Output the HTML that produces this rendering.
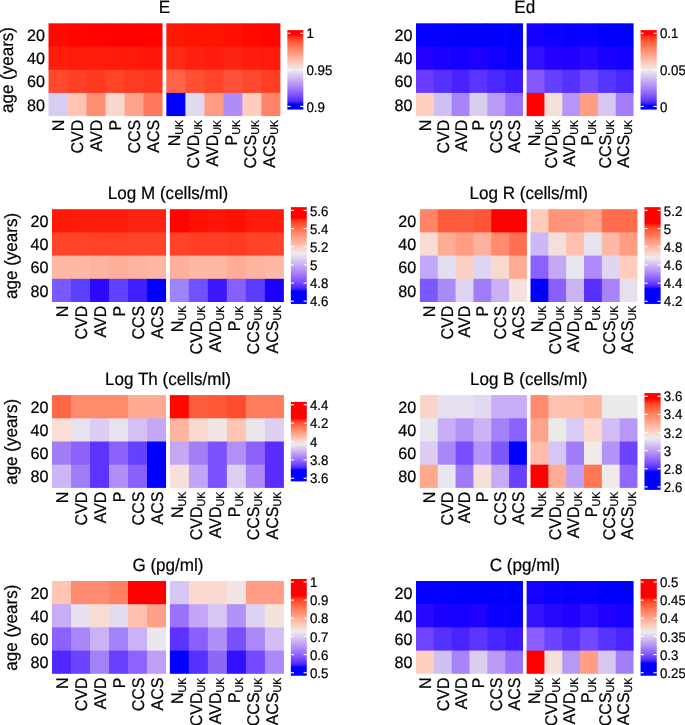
<!DOCTYPE html>
<html><head><meta charset="utf-8"><style>
html,body{margin:0;padding:0;background:#fff;}
svg{display:block;}
text{font-family:"Liberation Sans",sans-serif;fill:#000;text-rendering:geometricPrecision;stroke:#000;stroke-width:0.22px;}
</style></head><body>
<svg width="685" height="725" viewBox="0 0 685 725">
<defs><linearGradient id="gE" x1="0" y1="0" x2="0" y2="1"><stop offset="0.0000" stop-color="#ff0000"/><stop offset="0.0541" stop-color="#ff0000"/><stop offset="0.0912" stop-color="#ff361c"/><stop offset="0.1283" stop-color="#ff4f30"/><stop offset="0.1654" stop-color="#ff6342"/><stop offset="0.2025" stop-color="#ff7554"/><stop offset="0.2396" stop-color="#ff8566"/><stop offset="0.2767" stop-color="#ff9579"/><stop offset="0.3138" stop-color="#ffa48b"/><stop offset="0.3509" stop-color="#ffb39e"/><stop offset="0.3881" stop-color="#ffc1b1"/><stop offset="0.4252" stop-color="#fbd0c5"/><stop offset="0.4623" stop-color="#f4ded8"/><stop offset="0.4994" stop-color="#ececec"/><stop offset="0.5357" stop-color="#e3daef"/><stop offset="0.5721" stop-color="#d9c8f1"/><stop offset="0.6085" stop-color="#ceb7f3"/><stop offset="0.6449" stop-color="#c3a5f5"/><stop offset="0.6812" stop-color="#b794f7"/><stop offset="0.7176" stop-color="#a983f9"/><stop offset="0.7540" stop-color="#9b71fa"/><stop offset="0.7904" stop-color="#8b5ffb"/><stop offset="0.8267" stop-color="#794dfc"/><stop offset="0.8631" stop-color="#633afd"/><stop offset="0.8995" stop-color="#4624fe"/><stop offset="0.9358" stop-color="#0000ff"/><stop offset="1.0000" stop-color="#0000ff"/></linearGradient><linearGradient id="gEd" x1="0" y1="0" x2="0" y2="1"><stop offset="0.0000" stop-color="#ff0000"/><stop offset="0.0465" stop-color="#ff0000"/><stop offset="0.0847" stop-color="#ff361c"/><stop offset="0.1229" stop-color="#ff4f30"/><stop offset="0.1610" stop-color="#ff6342"/><stop offset="0.1992" stop-color="#ff7554"/><stop offset="0.2373" stop-color="#ff8566"/><stop offset="0.2755" stop-color="#ff9579"/><stop offset="0.3136" stop-color="#ffa48b"/><stop offset="0.3518" stop-color="#ffb39e"/><stop offset="0.3899" stop-color="#ffc1b1"/><stop offset="0.4281" stop-color="#fbd0c5"/><stop offset="0.4662" stop-color="#f4ded8"/><stop offset="0.5044" stop-color="#ececec"/><stop offset="0.5418" stop-color="#e3daef"/><stop offset="0.5792" stop-color="#d9c8f1"/><stop offset="0.6167" stop-color="#ceb7f3"/><stop offset="0.6541" stop-color="#c3a5f5"/><stop offset="0.6915" stop-color="#b794f7"/><stop offset="0.7289" stop-color="#a983f9"/><stop offset="0.7664" stop-color="#9b71fa"/><stop offset="0.8038" stop-color="#8b5ffb"/><stop offset="0.8412" stop-color="#794dfc"/><stop offset="0.8786" stop-color="#633afd"/><stop offset="0.9160" stop-color="#4624fe"/><stop offset="0.9535" stop-color="#0000ff"/><stop offset="1.0000" stop-color="#0000ff"/></linearGradient><linearGradient id="gLogM" x1="0" y1="0" x2="0" y2="1"><stop offset="0.0000" stop-color="#ff0000"/><stop offset="0.1074" stop-color="#ff0000"/><stop offset="0.1387" stop-color="#ff361c"/><stop offset="0.1699" stop-color="#ff4f30"/><stop offset="0.2012" stop-color="#ff6342"/><stop offset="0.2324" stop-color="#ff7554"/><stop offset="0.2637" stop-color="#ff8566"/><stop offset="0.2949" stop-color="#ff9579"/><stop offset="0.3262" stop-color="#ffa48b"/><stop offset="0.3574" stop-color="#ffb39e"/><stop offset="0.3887" stop-color="#ffc1b1"/><stop offset="0.4199" stop-color="#fbd0c5"/><stop offset="0.4512" stop-color="#f4ded8"/><stop offset="0.4824" stop-color="#ececec"/><stop offset="0.5148" stop-color="#e3daef"/><stop offset="0.5472" stop-color="#d9c8f1"/><stop offset="0.5795" stop-color="#ceb7f3"/><stop offset="0.6119" stop-color="#c3a5f5"/><stop offset="0.6443" stop-color="#b794f7"/><stop offset="0.6767" stop-color="#a983f9"/><stop offset="0.7090" stop-color="#9b71fa"/><stop offset="0.7414" stop-color="#8b5ffb"/><stop offset="0.7738" stop-color="#794dfc"/><stop offset="0.8061" stop-color="#633afd"/><stop offset="0.8385" stop-color="#4624fe"/><stop offset="0.8709" stop-color="#0000ff"/><stop offset="1.0000" stop-color="#0000ff"/></linearGradient><linearGradient id="gLogR" x1="0" y1="0" x2="0" y2="1"><stop offset="0.0000" stop-color="#ff0000"/><stop offset="0.1643" stop-color="#ff0000"/><stop offset="0.1942" stop-color="#ff361c"/><stop offset="0.2242" stop-color="#ff4f30"/><stop offset="0.2541" stop-color="#ff6342"/><stop offset="0.2841" stop-color="#ff7554"/><stop offset="0.3140" stop-color="#ff8566"/><stop offset="0.3440" stop-color="#ff9579"/><stop offset="0.3740" stop-color="#ffa48b"/><stop offset="0.4039" stop-color="#ffb39e"/><stop offset="0.4339" stop-color="#ffc1b1"/><stop offset="0.4638" stop-color="#fbd0c5"/><stop offset="0.4938" stop-color="#f4ded8"/><stop offset="0.5238" stop-color="#ececec"/><stop offset="0.5505" stop-color="#e3daef"/><stop offset="0.5773" stop-color="#d9c8f1"/><stop offset="0.6041" stop-color="#ceb7f3"/><stop offset="0.6309" stop-color="#c3a5f5"/><stop offset="0.6576" stop-color="#b794f7"/><stop offset="0.6844" stop-color="#a983f9"/><stop offset="0.7112" stop-color="#9b71fa"/><stop offset="0.7379" stop-color="#8b5ffb"/><stop offset="0.7647" stop-color="#794dfc"/><stop offset="0.7915" stop-color="#633afd"/><stop offset="0.8183" stop-color="#4624fe"/><stop offset="0.8450" stop-color="#0000ff"/><stop offset="1.0000" stop-color="#0000ff"/></linearGradient><linearGradient id="gLogTh" x1="0" y1="0" x2="0" y2="1"><stop offset="0.0000" stop-color="#ff0000"/><stop offset="0.2050" stop-color="#ff0000"/><stop offset="0.2325" stop-color="#ff361c"/><stop offset="0.2600" stop-color="#ff4f30"/><stop offset="0.2874" stop-color="#ff6342"/><stop offset="0.3149" stop-color="#ff7554"/><stop offset="0.3423" stop-color="#ff8566"/><stop offset="0.3698" stop-color="#ff9579"/><stop offset="0.3973" stop-color="#ffa48b"/><stop offset="0.4247" stop-color="#ffb39e"/><stop offset="0.4522" stop-color="#ffc1b1"/><stop offset="0.4797" stop-color="#fbd0c5"/><stop offset="0.5071" stop-color="#f4ded8"/><stop offset="0.5346" stop-color="#ececec"/><stop offset="0.5614" stop-color="#e3daef"/><stop offset="0.5883" stop-color="#d9c8f1"/><stop offset="0.6151" stop-color="#ceb7f3"/><stop offset="0.6419" stop-color="#c3a5f5"/><stop offset="0.6688" stop-color="#b794f7"/><stop offset="0.6956" stop-color="#a983f9"/><stop offset="0.7224" stop-color="#9b71fa"/><stop offset="0.7493" stop-color="#8b5ffb"/><stop offset="0.7761" stop-color="#794dfc"/><stop offset="0.8029" stop-color="#633afd"/><stop offset="0.8298" stop-color="#4624fe"/><stop offset="0.8566" stop-color="#0000ff"/><stop offset="1.0000" stop-color="#0000ff"/></linearGradient><linearGradient id="gLogB" x1="0" y1="0" x2="0" y2="1"><stop offset="0.0000" stop-color="#ff0000"/><stop offset="0.0599" stop-color="#ff0000"/><stop offset="0.0936" stop-color="#ff361c"/><stop offset="0.1272" stop-color="#ff4f30"/><stop offset="0.1609" stop-color="#ff6342"/><stop offset="0.1946" stop-color="#ff7554"/><stop offset="0.2282" stop-color="#ff8566"/><stop offset="0.2619" stop-color="#ff9579"/><stop offset="0.2955" stop-color="#ffa48b"/><stop offset="0.3292" stop-color="#ffb39e"/><stop offset="0.3629" stop-color="#ffc1b1"/><stop offset="0.3965" stop-color="#fbd0c5"/><stop offset="0.4302" stop-color="#f4ded8"/><stop offset="0.4638" stop-color="#ececec"/><stop offset="0.4931" stop-color="#e3daef"/><stop offset="0.5224" stop-color="#d9c8f1"/><stop offset="0.5517" stop-color="#ceb7f3"/><stop offset="0.5809" stop-color="#c3a5f5"/><stop offset="0.6102" stop-color="#b794f7"/><stop offset="0.6395" stop-color="#a983f9"/><stop offset="0.6687" stop-color="#9b71fa"/><stop offset="0.6980" stop-color="#8b5ffb"/><stop offset="0.7273" stop-color="#794dfc"/><stop offset="0.7565" stop-color="#633afd"/><stop offset="0.7858" stop-color="#4624fe"/><stop offset="0.8151" stop-color="#0000ff"/><stop offset="1.0000" stop-color="#0000ff"/></linearGradient><linearGradient id="gG" x1="0" y1="0" x2="0" y2="1"><stop offset="0.0000" stop-color="#ff0000"/><stop offset="0.1725" stop-color="#ff0000"/><stop offset="0.2034" stop-color="#ff361c"/><stop offset="0.2343" stop-color="#ff4f30"/><stop offset="0.2652" stop-color="#ff6342"/><stop offset="0.2961" stop-color="#ff7554"/><stop offset="0.3270" stop-color="#ff8566"/><stop offset="0.3580" stop-color="#ff9579"/><stop offset="0.3889" stop-color="#ffa48b"/><stop offset="0.4198" stop-color="#ffb39e"/><stop offset="0.4507" stop-color="#ffc1b1"/><stop offset="0.4816" stop-color="#fbd0c5"/><stop offset="0.5125" stop-color="#f4ded8"/><stop offset="0.5434" stop-color="#ececec"/><stop offset="0.5742" stop-color="#e3daef"/><stop offset="0.6050" stop-color="#d9c8f1"/><stop offset="0.6358" stop-color="#ceb7f3"/><stop offset="0.6667" stop-color="#c3a5f5"/><stop offset="0.6975" stop-color="#b794f7"/><stop offset="0.7283" stop-color="#a983f9"/><stop offset="0.7591" stop-color="#9b71fa"/><stop offset="0.7899" stop-color="#8b5ffb"/><stop offset="0.8208" stop-color="#794dfc"/><stop offset="0.8516" stop-color="#633afd"/><stop offset="0.8824" stop-color="#4624fe"/><stop offset="0.9132" stop-color="#0000ff"/><stop offset="1.0000" stop-color="#0000ff"/></linearGradient><linearGradient id="gC" x1="0" y1="0" x2="0" y2="1"><stop offset="0.0000" stop-color="#ff0000"/><stop offset="0.1870" stop-color="#ff0000"/><stop offset="0.2173" stop-color="#ff361c"/><stop offset="0.2476" stop-color="#ff4f30"/><stop offset="0.2779" stop-color="#ff6342"/><stop offset="0.3082" stop-color="#ff7554"/><stop offset="0.3385" stop-color="#ff8566"/><stop offset="0.3688" stop-color="#ff9579"/><stop offset="0.3991" stop-color="#ffa48b"/><stop offset="0.4294" stop-color="#ffb39e"/><stop offset="0.4597" stop-color="#ffc1b1"/><stop offset="0.4900" stop-color="#fbd0c5"/><stop offset="0.5203" stop-color="#f4ded8"/><stop offset="0.5506" stop-color="#ececec"/><stop offset="0.5772" stop-color="#e3daef"/><stop offset="0.6038" stop-color="#d9c8f1"/><stop offset="0.6304" stop-color="#ceb7f3"/><stop offset="0.6570" stop-color="#c3a5f5"/><stop offset="0.6836" stop-color="#b794f7"/><stop offset="0.7102" stop-color="#a983f9"/><stop offset="0.7368" stop-color="#9b71fa"/><stop offset="0.7634" stop-color="#8b5ffb"/><stop offset="0.7900" stop-color="#794dfc"/><stop offset="0.8166" stop-color="#633afd"/><stop offset="0.8432" stop-color="#4624fe"/><stop offset="0.8698" stop-color="#0000ff"/><stop offset="1.0000" stop-color="#0000ff"/></linearGradient></defs>
<rect width="685" height="725" fill="#fff"/>
<rect x="48.5" y="23.3" width="19.71" height="23.9" fill="#FF0A00"/>
<rect x="67.51" y="23.3" width="19.71" height="23.9" fill="#FF0400"/>
<rect x="86.52" y="23.3" width="19.71" height="23.9" fill="#FF0200"/>
<rect x="105.53" y="23.3" width="19.71" height="23.9" fill="#FF0000"/>
<rect x="124.53" y="23.3" width="19.71" height="23.9" fill="#FF0000"/>
<rect x="143.54" y="23.3" width="19.01" height="23.9" fill="#FF0200"/>
<rect x="48.5" y="46.5" width="19.71" height="23.9" fill="#FF1E0C"/>
<rect x="67.51" y="46.5" width="19.71" height="23.9" fill="#FF1A0A"/>
<rect x="86.52" y="46.5" width="19.71" height="23.9" fill="#FF1C0C"/>
<rect x="105.53" y="46.5" width="19.71" height="23.9" fill="#FF1A0A"/>
<rect x="124.53" y="46.5" width="19.71" height="23.9" fill="#FF1A0A"/>
<rect x="143.54" y="46.5" width="19.01" height="23.9" fill="#FF160A"/>
<rect x="48.5" y="69.7" width="19.71" height="23.9" fill="#FF4A2E"/>
<rect x="67.51" y="69.7" width="19.71" height="23.9" fill="#FF4028"/>
<rect x="86.52" y="69.7" width="19.71" height="23.9" fill="#FF3A20"/>
<rect x="105.53" y="69.7" width="19.71" height="23.9" fill="#FF4428"/>
<rect x="124.53" y="69.7" width="19.71" height="23.9" fill="#FF3C22"/>
<rect x="143.54" y="69.7" width="19.01" height="23.9" fill="#FF3620"/>
<rect x="48.5" y="92.9" width="19.71" height="23.2" fill="#D8CCF0"/>
<rect x="67.51" y="92.9" width="19.71" height="23.2" fill="#FFC4B4"/>
<rect x="86.52" y="92.9" width="19.71" height="23.2" fill="#FF8E74"/>
<rect x="105.53" y="92.9" width="19.71" height="23.2" fill="#F8D8CE"/>
<rect x="124.53" y="92.9" width="19.71" height="23.2" fill="#FFA48A"/>
<rect x="143.54" y="92.9" width="19.01" height="23.2" fill="#FF7A5C"/>
<rect x="166.35" y="23.3" width="19.71" height="23.9" fill="#FF1800"/>
<rect x="185.36" y="23.3" width="19.71" height="23.9" fill="#FF1200"/>
<rect x="204.37" y="23.3" width="19.71" height="23.9" fill="#FF1400"/>
<rect x="223.38" y="23.3" width="19.71" height="23.9" fill="#FF1000"/>
<rect x="242.38" y="23.3" width="19.71" height="23.9" fill="#FF0800"/>
<rect x="261.39" y="23.3" width="19.01" height="23.9" fill="#FF0400"/>
<rect x="166.35" y="46.5" width="19.71" height="23.9" fill="#FF2A14"/>
<rect x="185.36" y="46.5" width="19.71" height="23.9" fill="#FF2010"/>
<rect x="204.37" y="46.5" width="19.71" height="23.9" fill="#FF1E0E"/>
<rect x="223.38" y="46.5" width="19.71" height="23.9" fill="#FF2412"/>
<rect x="242.38" y="46.5" width="19.71" height="23.9" fill="#FF1E0E"/>
<rect x="261.39" y="46.5" width="19.01" height="23.9" fill="#FF1A0C"/>
<rect x="166.35" y="69.7" width="19.71" height="23.9" fill="#FF6448"/>
<rect x="185.36" y="69.7" width="19.71" height="23.9" fill="#FF5034"/>
<rect x="204.37" y="69.7" width="19.71" height="23.9" fill="#FF4428"/>
<rect x="223.38" y="69.7" width="19.71" height="23.9" fill="#FF5238"/>
<rect x="242.38" y="69.7" width="19.71" height="23.9" fill="#FF4830"/>
<rect x="261.39" y="69.7" width="19.01" height="23.9" fill="#FF3E24"/>
<rect x="166.35" y="92.9" width="19.71" height="23.2" fill="#0000FF"/>
<rect x="185.36" y="92.9" width="19.71" height="23.2" fill="#E0DAF0"/>
<rect x="204.37" y="92.9" width="19.71" height="23.2" fill="#FF9C84"/>
<rect x="223.38" y="92.9" width="19.71" height="23.2" fill="#B08CF8"/>
<rect x="242.38" y="92.9" width="19.71" height="23.2" fill="#FFCCBE"/>
<rect x="261.39" y="92.9" width="19.01" height="23.2" fill="#FF8468"/>
<rect x="287.35" y="30.1" width="15.95" height="79.5" fill="url(#gE)"/>
<rect x="287.35" y="32.72" width="3.19" height="1.1" fill="#fff"/>
<rect x="300.11" y="32.72" width="3.19" height="1.1" fill="#fff"/>
<rect x="287.35" y="69.32" width="3.19" height="1.1" fill="#fff"/>
<rect x="300.11" y="69.32" width="3.19" height="1.1" fill="#fff"/>
<rect x="287.35" y="105.92" width="3.19" height="1.1" fill="#fff"/>
<rect x="300.11" y="105.92" width="3.19" height="1.1" fill="#fff"/>
<rect x="416" y="23.3" width="18.53" height="23.9" fill="#0500FF"/>
<rect x="433.83" y="23.3" width="18.53" height="23.9" fill="#0200FF"/>
<rect x="451.67" y="23.3" width="18.53" height="23.9" fill="#0100FF"/>
<rect x="469.5" y="23.3" width="18.53" height="23.9" fill="#0000FF"/>
<rect x="487.33" y="23.3" width="18.53" height="23.9" fill="#0000FF"/>
<rect x="505.17" y="23.3" width="17.83" height="23.9" fill="#0000FF"/>
<rect x="416" y="46.5" width="18.53" height="23.9" fill="#2500FF"/>
<rect x="433.83" y="46.5" width="18.53" height="23.9" fill="#1A00FF"/>
<rect x="451.67" y="46.5" width="18.53" height="23.9" fill="#1500FF"/>
<rect x="469.5" y="46.5" width="18.53" height="23.9" fill="#1E00FF"/>
<rect x="487.33" y="46.5" width="18.53" height="23.9" fill="#1000FF"/>
<rect x="505.17" y="46.5" width="17.83" height="23.9" fill="#0800FF"/>
<rect x="416" y="69.7" width="18.53" height="23.9" fill="#6A3CFF"/>
<rect x="433.83" y="69.7" width="18.53" height="23.9" fill="#5530FF"/>
<rect x="451.67" y="69.7" width="18.53" height="23.9" fill="#4A22FF"/>
<rect x="469.5" y="69.7" width="18.53" height="23.9" fill="#5A34FF"/>
<rect x="487.33" y="69.7" width="18.53" height="23.9" fill="#4828FF"/>
<rect x="505.17" y="69.7" width="17.83" height="23.9" fill="#3E18FF"/>
<rect x="416" y="92.9" width="18.53" height="23.2" fill="#FFD0C2"/>
<rect x="433.83" y="92.9" width="18.53" height="23.2" fill="#CFC0F4"/>
<rect x="451.67" y="92.9" width="18.53" height="23.2" fill="#A884F8"/>
<rect x="469.5" y="92.9" width="18.53" height="23.2" fill="#DACEF0"/>
<rect x="487.33" y="92.9" width="18.53" height="23.2" fill="#B99AF6"/>
<rect x="505.17" y="92.9" width="17.83" height="23.2" fill="#9870FA"/>
<rect x="526.6" y="23.3" width="18.53" height="23.9" fill="#1400FF"/>
<rect x="544.43" y="23.3" width="18.53" height="23.9" fill="#0C00FF"/>
<rect x="562.27" y="23.3" width="18.53" height="23.9" fill="#0800FF"/>
<rect x="580.1" y="23.3" width="18.53" height="23.9" fill="#0A00FF"/>
<rect x="597.93" y="23.3" width="18.53" height="23.9" fill="#0000FF"/>
<rect x="615.77" y="23.3" width="17.83" height="23.9" fill="#0000FF"/>
<rect x="526.6" y="46.5" width="18.53" height="23.9" fill="#3010FF"/>
<rect x="544.43" y="46.5" width="18.53" height="23.9" fill="#2600FF"/>
<rect x="562.27" y="46.5" width="18.53" height="23.9" fill="#2000FF"/>
<rect x="580.1" y="46.5" width="18.53" height="23.9" fill="#2A08FF"/>
<rect x="597.93" y="46.5" width="18.53" height="23.9" fill="#1A00FF"/>
<rect x="615.77" y="46.5" width="17.83" height="23.9" fill="#1400FF"/>
<rect x="526.6" y="69.7" width="18.53" height="23.9" fill="#8458FF"/>
<rect x="544.43" y="69.7" width="18.53" height="23.9" fill="#6640FF"/>
<rect x="562.27" y="69.7" width="18.53" height="23.9" fill="#5530FF"/>
<rect x="580.1" y="69.7" width="18.53" height="23.9" fill="#6E46FF"/>
<rect x="597.93" y="69.7" width="18.53" height="23.9" fill="#5634FF"/>
<rect x="615.77" y="69.7" width="17.83" height="23.9" fill="#4A26FF"/>
<rect x="526.6" y="92.9" width="18.53" height="23.2" fill="#FF0000"/>
<rect x="544.43" y="92.9" width="18.53" height="23.2" fill="#F4E0D8"/>
<rect x="562.27" y="92.9" width="18.53" height="23.2" fill="#B596F6"/>
<rect x="580.1" y="92.9" width="18.53" height="23.2" fill="#FF9E82"/>
<rect x="597.93" y="92.9" width="18.53" height="23.2" fill="#D6C8F2"/>
<rect x="615.77" y="92.9" width="17.83" height="23.2" fill="#A47EF8"/>
<rect x="640.55" y="30.1" width="16.2" height="79.5" fill="url(#gEd)"/>
<rect x="640.55" y="32.72" width="3.24" height="1.1" fill="#fff"/>
<rect x="653.51" y="32.72" width="3.24" height="1.1" fill="#fff"/>
<rect x="640.55" y="69.32" width="3.24" height="1.1" fill="#fff"/>
<rect x="653.51" y="69.32" width="3.24" height="1.1" fill="#fff"/>
<rect x="640.55" y="105.92" width="3.24" height="1.1" fill="#fff"/>
<rect x="653.51" y="105.92" width="3.24" height="1.1" fill="#fff"/>
<rect x="52" y="209.2" width="19.71" height="23.9" fill="#FF1A08"/>
<rect x="71.01" y="209.2" width="19.71" height="23.9" fill="#FF1C0A"/>
<rect x="90.02" y="209.2" width="19.71" height="23.9" fill="#FF1C0A"/>
<rect x="109.03" y="209.2" width="19.71" height="23.9" fill="#FF1C0A"/>
<rect x="128.03" y="209.2" width="19.71" height="23.9" fill="#FF2412"/>
<rect x="147.04" y="209.2" width="19.01" height="23.9" fill="#FF2412"/>
<rect x="52" y="232.4" width="19.71" height="23.9" fill="#FF4428"/>
<rect x="71.01" y="232.4" width="19.71" height="23.9" fill="#FF4428"/>
<rect x="90.02" y="232.4" width="19.71" height="23.9" fill="#FF4226"/>
<rect x="109.03" y="232.4" width="19.71" height="23.9" fill="#FF4226"/>
<rect x="128.03" y="232.4" width="19.71" height="23.9" fill="#FF4428"/>
<rect x="147.04" y="232.4" width="19.01" height="23.9" fill="#FF4428"/>
<rect x="52" y="255.6" width="19.71" height="23.9" fill="#FFB8A4"/>
<rect x="71.01" y="255.6" width="19.71" height="23.9" fill="#FFB8A4"/>
<rect x="90.02" y="255.6" width="19.71" height="23.9" fill="#FFB4A0"/>
<rect x="109.03" y="255.6" width="19.71" height="23.9" fill="#FFB09A"/>
<rect x="128.03" y="255.6" width="19.71" height="23.9" fill="#FFB4A0"/>
<rect x="147.04" y="255.6" width="19.01" height="23.9" fill="#FFB8A4"/>
<rect x="52" y="278.8" width="19.71" height="23.2" fill="#7A5AFF"/>
<rect x="71.01" y="278.8" width="19.71" height="23.2" fill="#5A40FF"/>
<rect x="90.02" y="278.8" width="19.71" height="23.2" fill="#2C08FF"/>
<rect x="109.03" y="278.8" width="19.71" height="23.2" fill="#6240FF"/>
<rect x="128.03" y="278.8" width="19.71" height="23.2" fill="#4020FF"/>
<rect x="147.04" y="278.8" width="19.01" height="23.2" fill="#0000FF"/>
<rect x="169.85" y="209.2" width="19.71" height="23.9" fill="#FF0400"/>
<rect x="188.86" y="209.2" width="19.71" height="23.9" fill="#FF1000"/>
<rect x="207.87" y="209.2" width="19.71" height="23.9" fill="#FF1406"/>
<rect x="226.88" y="209.2" width="19.71" height="23.9" fill="#FF1000"/>
<rect x="245.88" y="209.2" width="19.71" height="23.9" fill="#FF1C0A"/>
<rect x="264.89" y="209.2" width="19.01" height="23.9" fill="#FF1C0A"/>
<rect x="169.85" y="232.4" width="19.71" height="23.9" fill="#FF4228"/>
<rect x="188.86" y="232.4" width="19.71" height="23.9" fill="#FF3E24"/>
<rect x="207.87" y="232.4" width="19.71" height="23.9" fill="#FF4026"/>
<rect x="226.88" y="232.4" width="19.71" height="23.9" fill="#FF3C22"/>
<rect x="245.88" y="232.4" width="19.71" height="23.9" fill="#FF4228"/>
<rect x="264.89" y="232.4" width="19.01" height="23.9" fill="#FF4429"/>
<rect x="169.85" y="255.6" width="19.71" height="23.9" fill="#FFB09C"/>
<rect x="188.86" y="255.6" width="19.71" height="23.9" fill="#FFB8A4"/>
<rect x="207.87" y="255.6" width="19.71" height="23.9" fill="#FFB8A4"/>
<rect x="226.88" y="255.6" width="19.71" height="23.9" fill="#FFAC96"/>
<rect x="245.88" y="255.6" width="19.71" height="23.9" fill="#FFB4A0"/>
<rect x="264.89" y="255.6" width="19.01" height="23.9" fill="#FFB8A6"/>
<rect x="169.85" y="278.8" width="19.71" height="23.2" fill="#9C84FF"/>
<rect x="188.86" y="278.8" width="19.71" height="23.2" fill="#7050FF"/>
<rect x="207.87" y="278.8" width="19.71" height="23.2" fill="#3C18FF"/>
<rect x="226.88" y="278.8" width="19.71" height="23.2" fill="#8660FF"/>
<rect x="245.88" y="278.8" width="19.71" height="23.2" fill="#5A3CFF"/>
<rect x="264.89" y="278.8" width="19.01" height="23.2" fill="#1A00FF"/>
<rect x="290.85" y="207.15" width="15.95" height="96.8" fill="url(#gLogM)"/>
<rect x="290.85" y="209.85" width="3.19" height="1.1" fill="#fff"/>
<rect x="303.61" y="209.85" width="3.19" height="1.1" fill="#fff"/>
<rect x="290.85" y="228.01" width="3.19" height="1.1" fill="#fff"/>
<rect x="303.61" y="228.01" width="3.19" height="1.1" fill="#fff"/>
<rect x="290.85" y="246.17" width="3.19" height="1.1" fill="#fff"/>
<rect x="303.61" y="246.17" width="3.19" height="1.1" fill="#fff"/>
<rect x="290.85" y="264.33" width="3.19" height="1.1" fill="#fff"/>
<rect x="303.61" y="264.33" width="3.19" height="1.1" fill="#fff"/>
<rect x="290.85" y="282.49" width="3.19" height="1.1" fill="#fff"/>
<rect x="303.61" y="282.49" width="3.19" height="1.1" fill="#fff"/>
<rect x="290.85" y="300.65" width="3.19" height="1.1" fill="#fff"/>
<rect x="303.61" y="300.65" width="3.19" height="1.1" fill="#fff"/>
<rect x="419.9" y="209.2" width="18.53" height="23.9" fill="#FF8468"/>
<rect x="437.73" y="209.2" width="18.53" height="23.9" fill="#FF5A3C"/>
<rect x="455.57" y="209.2" width="18.53" height="23.9" fill="#FF5C3E"/>
<rect x="473.4" y="209.2" width="18.53" height="23.9" fill="#FF5536"/>
<rect x="491.23" y="209.2" width="18.53" height="23.9" fill="#FF0000"/>
<rect x="509.07" y="209.2" width="17.83" height="23.9" fill="#FF0000"/>
<rect x="419.9" y="232.4" width="18.53" height="23.9" fill="#F8DCD4"/>
<rect x="437.73" y="232.4" width="18.53" height="23.9" fill="#FFAC94"/>
<rect x="455.57" y="232.4" width="18.53" height="23.9" fill="#FF9C84"/>
<rect x="473.4" y="232.4" width="18.53" height="23.9" fill="#FFB09E"/>
<rect x="491.23" y="232.4" width="18.53" height="23.9" fill="#FF8A6E"/>
<rect x="509.07" y="232.4" width="17.83" height="23.9" fill="#FF7050"/>
<rect x="419.9" y="255.6" width="18.53" height="23.9" fill="#C4A8F8"/>
<rect x="437.73" y="255.6" width="18.53" height="23.9" fill="#E4DEF2"/>
<rect x="455.57" y="255.6" width="18.53" height="23.9" fill="#FCD0C6"/>
<rect x="473.4" y="255.6" width="18.53" height="23.9" fill="#E0D4F4"/>
<rect x="491.23" y="255.6" width="18.53" height="23.9" fill="#F9D8CE"/>
<rect x="509.07" y="255.6" width="17.83" height="23.9" fill="#FFAA92"/>
<rect x="419.9" y="278.8" width="18.53" height="23.2" fill="#7C58FF"/>
<rect x="437.73" y="278.8" width="18.53" height="23.2" fill="#A88AF8"/>
<rect x="455.57" y="278.8" width="18.53" height="23.2" fill="#E0D4F4"/>
<rect x="473.4" y="278.8" width="18.53" height="23.2" fill="#A07CF8"/>
<rect x="491.23" y="278.8" width="18.53" height="23.2" fill="#CAB0F6"/>
<rect x="509.07" y="278.8" width="17.83" height="23.2" fill="#F6E2DC"/>
<rect x="530.5" y="209.2" width="18.53" height="23.9" fill="#FFCCBC"/>
<rect x="548.33" y="209.2" width="18.53" height="23.9" fill="#FF947A"/>
<rect x="566.17" y="209.2" width="18.53" height="23.9" fill="#FF967C"/>
<rect x="584" y="209.2" width="18.53" height="23.9" fill="#FFA288"/>
<rect x="601.83" y="209.2" width="18.53" height="23.9" fill="#FF6C4E"/>
<rect x="619.67" y="209.2" width="17.83" height="23.9" fill="#FF6C4E"/>
<rect x="530.5" y="232.4" width="18.53" height="23.9" fill="#CCB8F6"/>
<rect x="548.33" y="232.4" width="18.53" height="23.9" fill="#F4E0DA"/>
<rect x="566.17" y="232.4" width="18.53" height="23.9" fill="#FFC0B0"/>
<rect x="584" y="232.4" width="18.53" height="23.9" fill="#E6E2F0"/>
<rect x="601.83" y="232.4" width="18.53" height="23.9" fill="#FFB8A6"/>
<rect x="619.67" y="232.4" width="17.83" height="23.9" fill="#FF9C82"/>
<rect x="530.5" y="255.6" width="18.53" height="23.9" fill="#8A60FF"/>
<rect x="548.33" y="255.6" width="18.53" height="23.9" fill="#C4A8F6"/>
<rect x="566.17" y="255.6" width="18.53" height="23.9" fill="#E8E6EE"/>
<rect x="584" y="255.6" width="18.53" height="23.9" fill="#AE8AF8"/>
<rect x="601.83" y="255.6" width="18.53" height="23.9" fill="#E0D6F2"/>
<rect x="619.67" y="255.6" width="17.83" height="23.9" fill="#FFCCBE"/>
<rect x="530.5" y="278.8" width="18.53" height="23.2" fill="#0000FF"/>
<rect x="548.33" y="278.8" width="18.53" height="23.2" fill="#8A60FA"/>
<rect x="566.17" y="278.8" width="18.53" height="23.2" fill="#CCB4F4"/>
<rect x="584" y="278.8" width="18.53" height="23.2" fill="#5A30FF"/>
<rect x="601.83" y="278.8" width="18.53" height="23.2" fill="#A884F8"/>
<rect x="619.67" y="278.8" width="17.83" height="23.2" fill="#E6E0F0"/>
<rect x="644.45" y="207.15" width="16.2" height="96.8" fill="url(#gLogR)"/>
<rect x="644.45" y="209.85" width="3.24" height="1.1" fill="#fff"/>
<rect x="657.41" y="209.85" width="3.24" height="1.1" fill="#fff"/>
<rect x="644.45" y="228.03" width="3.24" height="1.1" fill="#fff"/>
<rect x="657.41" y="228.03" width="3.24" height="1.1" fill="#fff"/>
<rect x="644.45" y="246.21" width="3.24" height="1.1" fill="#fff"/>
<rect x="657.41" y="246.21" width="3.24" height="1.1" fill="#fff"/>
<rect x="644.45" y="264.39" width="3.24" height="1.1" fill="#fff"/>
<rect x="657.41" y="264.39" width="3.24" height="1.1" fill="#fff"/>
<rect x="644.45" y="282.57" width="3.24" height="1.1" fill="#fff"/>
<rect x="657.41" y="282.57" width="3.24" height="1.1" fill="#fff"/>
<rect x="644.45" y="300.75" width="3.24" height="1.1" fill="#fff"/>
<rect x="657.41" y="300.75" width="3.24" height="1.1" fill="#fff"/>
<rect x="52" y="395.1" width="19.71" height="23.9" fill="#FF6644"/>
<rect x="71.01" y="395.1" width="19.71" height="23.9" fill="#FF8A6C"/>
<rect x="90.02" y="395.1" width="19.71" height="23.9" fill="#FF8A6C"/>
<rect x="109.03" y="395.1" width="19.71" height="23.9" fill="#FF8A6C"/>
<rect x="128.03" y="395.1" width="19.71" height="23.9" fill="#FFA892"/>
<rect x="147.04" y="395.1" width="19.01" height="23.9" fill="#FFA892"/>
<rect x="52" y="418.3" width="19.71" height="23.9" fill="#FADED6"/>
<rect x="71.01" y="418.3" width="19.71" height="23.9" fill="#E6E2F0"/>
<rect x="90.02" y="418.3" width="19.71" height="23.9" fill="#DCCEF2"/>
<rect x="109.03" y="418.3" width="19.71" height="23.9" fill="#E6E2EE"/>
<rect x="128.03" y="418.3" width="19.71" height="23.9" fill="#D4C0F4"/>
<rect x="147.04" y="418.3" width="19.01" height="23.9" fill="#C4A8F6"/>
<rect x="52" y="441.5" width="19.71" height="23.9" fill="#A07EF8"/>
<rect x="71.01" y="441.5" width="19.71" height="23.9" fill="#8C62FA"/>
<rect x="90.02" y="441.5" width="19.71" height="23.9" fill="#5C34FF"/>
<rect x="109.03" y="441.5" width="19.71" height="23.9" fill="#8C62FA"/>
<rect x="128.03" y="441.5" width="19.71" height="23.9" fill="#6640FF"/>
<rect x="147.04" y="441.5" width="19.01" height="23.9" fill="#0000FF"/>
<rect x="52" y="464.7" width="19.71" height="23.2" fill="#CCB6F4"/>
<rect x="71.01" y="464.7" width="19.71" height="23.2" fill="#A07EF8"/>
<rect x="90.02" y="464.7" width="19.71" height="23.2" fill="#5C34FF"/>
<rect x="109.03" y="464.7" width="19.71" height="23.2" fill="#B090F6"/>
<rect x="128.03" y="464.7" width="19.71" height="23.2" fill="#8860FA"/>
<rect x="147.04" y="464.7" width="19.01" height="23.2" fill="#0000FF"/>
<rect x="169.85" y="395.1" width="19.71" height="23.9" fill="#FF0800"/>
<rect x="188.86" y="395.1" width="19.71" height="23.9" fill="#FF5C3E"/>
<rect x="207.87" y="395.1" width="19.71" height="23.9" fill="#FF5838"/>
<rect x="226.88" y="395.1" width="19.71" height="23.9" fill="#FF4C2E"/>
<rect x="245.88" y="395.1" width="19.71" height="23.9" fill="#FF7C5C"/>
<rect x="264.89" y="395.1" width="19.01" height="23.9" fill="#FF7C5C"/>
<rect x="169.85" y="418.3" width="19.71" height="23.9" fill="#FFB4A0"/>
<rect x="188.86" y="418.3" width="19.71" height="23.9" fill="#FADAD0"/>
<rect x="207.87" y="418.3" width="19.71" height="23.9" fill="#F0E6E4"/>
<rect x="226.88" y="418.3" width="19.71" height="23.9" fill="#FFC4B4"/>
<rect x="245.88" y="418.3" width="19.71" height="23.9" fill="#EAE6EC"/>
<rect x="264.89" y="418.3" width="19.01" height="23.9" fill="#DED0F2"/>
<rect x="169.85" y="441.5" width="19.71" height="23.9" fill="#C4A8F6"/>
<rect x="188.86" y="441.5" width="19.71" height="23.9" fill="#A27EF8"/>
<rect x="207.87" y="441.5" width="19.71" height="23.9" fill="#7C52FF"/>
<rect x="226.88" y="441.5" width="19.71" height="23.9" fill="#B290F6"/>
<rect x="245.88" y="441.5" width="19.71" height="23.9" fill="#8C62FA"/>
<rect x="264.89" y="441.5" width="19.01" height="23.9" fill="#5A2CFF"/>
<rect x="169.85" y="464.7" width="19.71" height="23.2" fill="#F8E0D8"/>
<rect x="188.86" y="464.7" width="19.71" height="23.2" fill="#C0A4F6"/>
<rect x="207.87" y="464.7" width="19.71" height="23.2" fill="#7C52FF"/>
<rect x="226.88" y="464.7" width="19.71" height="23.2" fill="#DCD0F2"/>
<rect x="245.88" y="464.7" width="19.71" height="23.2" fill="#AC88F8"/>
<rect x="264.89" y="464.7" width="19.01" height="23.2" fill="#5A2CFF"/>
<rect x="290.85" y="401.9" width="15.95" height="79.5" fill="url(#gLogTh)"/>
<rect x="290.85" y="404.19" width="3.19" height="1.1" fill="#fff"/>
<rect x="303.61" y="404.19" width="3.19" height="1.1" fill="#fff"/>
<rect x="290.85" y="422.57" width="3.19" height="1.1" fill="#fff"/>
<rect x="303.61" y="422.57" width="3.19" height="1.1" fill="#fff"/>
<rect x="290.85" y="440.95" width="3.19" height="1.1" fill="#fff"/>
<rect x="303.61" y="440.95" width="3.19" height="1.1" fill="#fff"/>
<rect x="290.85" y="459.33" width="3.19" height="1.1" fill="#fff"/>
<rect x="303.61" y="459.33" width="3.19" height="1.1" fill="#fff"/>
<rect x="290.85" y="477.71" width="3.19" height="1.1" fill="#fff"/>
<rect x="303.61" y="477.71" width="3.19" height="1.1" fill="#fff"/>
<rect x="419.9" y="395.1" width="18.53" height="23.9" fill="#FAD4CA"/>
<rect x="437.73" y="395.1" width="18.53" height="23.9" fill="#E6E0F0"/>
<rect x="455.57" y="395.1" width="18.53" height="23.9" fill="#E6E0F0"/>
<rect x="473.4" y="395.1" width="18.53" height="23.9" fill="#E2D8F2"/>
<rect x="491.23" y="395.1" width="18.53" height="23.9" fill="#C8AEF6"/>
<rect x="509.07" y="395.1" width="17.83" height="23.9" fill="#C8AEF6"/>
<rect x="419.9" y="418.3" width="18.53" height="23.9" fill="#E8E6EE"/>
<rect x="437.73" y="418.3" width="18.53" height="23.9" fill="#C8AEF6"/>
<rect x="455.57" y="418.3" width="18.53" height="23.9" fill="#B494F8"/>
<rect x="473.4" y="418.3" width="18.53" height="23.9" fill="#CAB4F6"/>
<rect x="491.23" y="418.3" width="18.53" height="23.9" fill="#A282F8"/>
<rect x="509.07" y="418.3" width="17.83" height="23.9" fill="#8A62FF"/>
<rect x="419.9" y="441.5" width="18.53" height="23.9" fill="#DCCCF2"/>
<rect x="437.73" y="441.5" width="18.53" height="23.9" fill="#A888F8"/>
<rect x="455.57" y="441.5" width="18.53" height="23.9" fill="#7850FF"/>
<rect x="473.4" y="441.5" width="18.53" height="23.9" fill="#B494F8"/>
<rect x="491.23" y="441.5" width="18.53" height="23.9" fill="#7C56FF"/>
<rect x="509.07" y="441.5" width="17.83" height="23.9" fill="#0000FF"/>
<rect x="419.9" y="464.7" width="18.53" height="23.2" fill="#FFA890"/>
<rect x="437.73" y="464.7" width="18.53" height="23.2" fill="#E8E6EE"/>
<rect x="455.57" y="464.7" width="18.53" height="23.2" fill="#9C7AF8"/>
<rect x="473.4" y="464.7" width="18.53" height="23.2" fill="#F6E0D8"/>
<rect x="491.23" y="464.7" width="18.53" height="23.2" fill="#C6ACF6"/>
<rect x="509.07" y="464.7" width="17.83" height="23.2" fill="#6A40FF"/>
<rect x="530.5" y="395.1" width="18.53" height="23.9" fill="#FF8A6E"/>
<rect x="548.33" y="395.1" width="18.53" height="23.9" fill="#FFC2B0"/>
<rect x="566.17" y="395.1" width="18.53" height="23.9" fill="#FFC0AE"/>
<rect x="584" y="395.1" width="18.53" height="23.9" fill="#FFB4A0"/>
<rect x="601.83" y="395.1" width="18.53" height="23.9" fill="#ECEAE8"/>
<rect x="619.67" y="395.1" width="17.83" height="23.9" fill="#ECEAE8"/>
<rect x="530.5" y="418.3" width="18.53" height="23.9" fill="#FFA48C"/>
<rect x="548.33" y="418.3" width="18.53" height="23.9" fill="#ECEAE8"/>
<rect x="566.17" y="418.3" width="18.53" height="23.9" fill="#DACCF4"/>
<rect x="584" y="418.3" width="18.53" height="23.9" fill="#FCD8CE"/>
<rect x="601.83" y="418.3" width="18.53" height="23.9" fill="#D2BEF6"/>
<rect x="619.67" y="418.3" width="17.83" height="23.9" fill="#B898F8"/>
<rect x="530.5" y="441.5" width="18.53" height="23.9" fill="#FFBCAA"/>
<rect x="548.33" y="441.5" width="18.53" height="23.9" fill="#D6C6F4"/>
<rect x="566.17" y="441.5" width="18.53" height="23.9" fill="#A07EFA"/>
<rect x="584" y="441.5" width="18.53" height="23.9" fill="#F0EAE8"/>
<rect x="601.83" y="441.5" width="18.53" height="23.9" fill="#B494F8"/>
<rect x="619.67" y="441.5" width="17.83" height="23.9" fill="#6C44FF"/>
<rect x="530.5" y="464.7" width="18.53" height="23.2" fill="#FF0000"/>
<rect x="548.33" y="464.7" width="18.53" height="23.2" fill="#FFAC96"/>
<rect x="566.17" y="464.7" width="18.53" height="23.2" fill="#BEA0F6"/>
<rect x="584" y="464.7" width="18.53" height="23.2" fill="#FF7856"/>
<rect x="601.83" y="464.7" width="18.53" height="23.2" fill="#F0EAE8"/>
<rect x="619.67" y="464.7" width="17.83" height="23.2" fill="#9068FF"/>
<rect x="644.45" y="393.05" width="16.2" height="96.8" fill="url(#gLogB)"/>
<rect x="644.45" y="395.7" width="3.24" height="1.1" fill="#fff"/>
<rect x="657.41" y="395.7" width="3.24" height="1.1" fill="#fff"/>
<rect x="644.45" y="413.83" width="3.24" height="1.1" fill="#fff"/>
<rect x="657.41" y="413.83" width="3.24" height="1.1" fill="#fff"/>
<rect x="644.45" y="431.96" width="3.24" height="1.1" fill="#fff"/>
<rect x="657.41" y="431.96" width="3.24" height="1.1" fill="#fff"/>
<rect x="644.45" y="450.09" width="3.24" height="1.1" fill="#fff"/>
<rect x="657.41" y="450.09" width="3.24" height="1.1" fill="#fff"/>
<rect x="644.45" y="468.22" width="3.24" height="1.1" fill="#fff"/>
<rect x="657.41" y="468.22" width="3.24" height="1.1" fill="#fff"/>
<rect x="644.45" y="486.35" width="3.24" height="1.1" fill="#fff"/>
<rect x="657.41" y="486.35" width="3.24" height="1.1" fill="#fff"/>
<rect x="52" y="581" width="19.71" height="23.9" fill="#FFC4B4"/>
<rect x="71.01" y="581" width="19.71" height="23.9" fill="#FF8C70"/>
<rect x="90.02" y="581" width="19.71" height="23.9" fill="#FF8C70"/>
<rect x="109.03" y="581" width="19.71" height="23.9" fill="#FF8060"/>
<rect x="128.03" y="581" width="19.71" height="23.9" fill="#FF0000"/>
<rect x="147.04" y="581" width="19.01" height="23.9" fill="#FF0000"/>
<rect x="52" y="604.2" width="19.71" height="23.9" fill="#C8AEF6"/>
<rect x="71.01" y="604.2" width="19.71" height="23.9" fill="#E6E0F0"/>
<rect x="90.02" y="604.2" width="19.71" height="23.9" fill="#F8DCD4"/>
<rect x="109.03" y="604.2" width="19.71" height="23.9" fill="#E4DAF0"/>
<rect x="128.03" y="604.2" width="19.71" height="23.9" fill="#FFC0B0"/>
<rect x="147.04" y="604.2" width="19.01" height="23.9" fill="#FFA08A"/>
<rect x="52" y="627.4" width="19.71" height="23.9" fill="#8C62FF"/>
<rect x="71.01" y="627.4" width="19.71" height="23.9" fill="#A886F8"/>
<rect x="90.02" y="627.4" width="19.71" height="23.9" fill="#CAB2F6"/>
<rect x="109.03" y="627.4" width="19.71" height="23.9" fill="#A282F8"/>
<rect x="128.03" y="627.4" width="19.71" height="23.9" fill="#CAB2F6"/>
<rect x="147.04" y="627.4" width="19.01" height="23.9" fill="#EAE8EC"/>
<rect x="52" y="650.6" width="19.71" height="23.2" fill="#5028FF"/>
<rect x="71.01" y="650.6" width="19.71" height="23.2" fill="#6C44FF"/>
<rect x="90.02" y="650.6" width="19.71" height="23.2" fill="#A282F8"/>
<rect x="109.03" y="650.6" width="19.71" height="23.2" fill="#6A40FF"/>
<rect x="128.03" y="650.6" width="19.71" height="23.2" fill="#8E64FC"/>
<rect x="147.04" y="650.6" width="19.01" height="23.2" fill="#C0A0F6"/>
<rect x="169.85" y="581" width="19.71" height="23.9" fill="#D6C6F4"/>
<rect x="188.86" y="581" width="19.71" height="23.9" fill="#FADAD0"/>
<rect x="207.87" y="581" width="19.71" height="23.9" fill="#FADAD0"/>
<rect x="226.88" y="581" width="19.71" height="23.9" fill="#F2E4E2"/>
<rect x="245.88" y="581" width="19.71" height="23.9" fill="#FF9E84"/>
<rect x="264.89" y="581" width="19.01" height="23.9" fill="#FF9E84"/>
<rect x="169.85" y="604.2" width="19.71" height="23.9" fill="#9A72FA"/>
<rect x="188.86" y="604.2" width="19.71" height="23.9" fill="#C4A6F6"/>
<rect x="207.87" y="604.2" width="19.71" height="23.9" fill="#D8C6F4"/>
<rect x="226.88" y="604.2" width="19.71" height="23.9" fill="#B292F8"/>
<rect x="245.88" y="604.2" width="19.71" height="23.9" fill="#DED2F2"/>
<rect x="264.89" y="604.2" width="19.01" height="23.9" fill="#F4E2DC"/>
<rect x="169.85" y="627.4" width="19.71" height="23.9" fill="#5C32FF"/>
<rect x="188.86" y="627.4" width="19.71" height="23.9" fill="#8A60FC"/>
<rect x="207.87" y="627.4" width="19.71" height="23.9" fill="#B090F6"/>
<rect x="226.88" y="627.4" width="19.71" height="23.9" fill="#7850FF"/>
<rect x="245.88" y="627.4" width="19.71" height="23.9" fill="#AA88F8"/>
<rect x="264.89" y="627.4" width="19.01" height="23.9" fill="#D2BEF4"/>
<rect x="169.85" y="650.6" width="19.71" height="23.2" fill="#0000FF"/>
<rect x="188.86" y="650.6" width="19.71" height="23.2" fill="#5830FF"/>
<rect x="207.87" y="650.6" width="19.71" height="23.2" fill="#8C68F8"/>
<rect x="226.88" y="650.6" width="19.71" height="23.2" fill="#3010FF"/>
<rect x="245.88" y="650.6" width="19.71" height="23.2" fill="#7448FF"/>
<rect x="264.89" y="650.6" width="19.01" height="23.2" fill="#AC88F8"/>
<rect x="290.85" y="578.95" width="15.95" height="96.8" fill="url(#gG)"/>
<rect x="290.85" y="581.45" width="3.19" height="1.1" fill="#fff"/>
<rect x="303.61" y="581.45" width="3.19" height="1.1" fill="#fff"/>
<rect x="290.85" y="599.6" width="3.19" height="1.1" fill="#fff"/>
<rect x="303.61" y="599.6" width="3.19" height="1.1" fill="#fff"/>
<rect x="290.85" y="617.75" width="3.19" height="1.1" fill="#fff"/>
<rect x="303.61" y="617.75" width="3.19" height="1.1" fill="#fff"/>
<rect x="290.85" y="635.9" width="3.19" height="1.1" fill="#fff"/>
<rect x="303.61" y="635.9" width="3.19" height="1.1" fill="#fff"/>
<rect x="290.85" y="654.05" width="3.19" height="1.1" fill="#fff"/>
<rect x="303.61" y="654.05" width="3.19" height="1.1" fill="#fff"/>
<rect x="290.85" y="672.2" width="3.19" height="1.1" fill="#fff"/>
<rect x="303.61" y="672.2" width="3.19" height="1.1" fill="#fff"/>
<rect x="416" y="581" width="18.53" height="23.9" fill="#0600FF"/>
<rect x="433.83" y="581" width="18.53" height="23.9" fill="#0200FF"/>
<rect x="451.67" y="581" width="18.53" height="23.9" fill="#0100FF"/>
<rect x="469.5" y="581" width="18.53" height="23.9" fill="#0000FF"/>
<rect x="487.33" y="581" width="18.53" height="23.9" fill="#0000FF"/>
<rect x="505.17" y="581" width="17.83" height="23.9" fill="#0000FF"/>
<rect x="416" y="604.2" width="18.53" height="23.9" fill="#2808FF"/>
<rect x="433.83" y="604.2" width="18.53" height="23.9" fill="#1C00FF"/>
<rect x="451.67" y="604.2" width="18.53" height="23.9" fill="#1600FF"/>
<rect x="469.5" y="604.2" width="18.53" height="23.9" fill="#2000FF"/>
<rect x="487.33" y="604.2" width="18.53" height="23.9" fill="#0A00FF"/>
<rect x="505.17" y="604.2" width="17.83" height="23.9" fill="#0600FF"/>
<rect x="416" y="627.4" width="18.53" height="23.9" fill="#6E44FF"/>
<rect x="433.83" y="627.4" width="18.53" height="23.9" fill="#5632FF"/>
<rect x="451.67" y="627.4" width="18.53" height="23.9" fill="#4A24FF"/>
<rect x="469.5" y="627.4" width="18.53" height="23.9" fill="#5C36FF"/>
<rect x="487.33" y="627.4" width="18.53" height="23.9" fill="#4826FF"/>
<rect x="505.17" y="627.4" width="17.83" height="23.9" fill="#3E18FF"/>
<rect x="416" y="650.6" width="18.53" height="23.2" fill="#FFD0C2"/>
<rect x="433.83" y="650.6" width="18.53" height="23.2" fill="#D0C0F4"/>
<rect x="451.67" y="650.6" width="18.53" height="23.2" fill="#A884F8"/>
<rect x="469.5" y="650.6" width="18.53" height="23.2" fill="#DCCEF0"/>
<rect x="487.33" y="650.6" width="18.53" height="23.2" fill="#BA9AF6"/>
<rect x="505.17" y="650.6" width="17.83" height="23.2" fill="#9A70FA"/>
<rect x="526.6" y="581" width="18.53" height="23.9" fill="#1600FF"/>
<rect x="544.43" y="581" width="18.53" height="23.9" fill="#0C00FF"/>
<rect x="562.27" y="581" width="18.53" height="23.9" fill="#0800FF"/>
<rect x="580.1" y="581" width="18.53" height="23.9" fill="#0A00FF"/>
<rect x="597.93" y="581" width="18.53" height="23.9" fill="#0000FF"/>
<rect x="615.77" y="581" width="17.83" height="23.9" fill="#0000FF"/>
<rect x="526.6" y="604.2" width="18.53" height="23.9" fill="#3414FF"/>
<rect x="544.43" y="604.2" width="18.53" height="23.9" fill="#2608FF"/>
<rect x="562.27" y="604.2" width="18.53" height="23.9" fill="#2200FF"/>
<rect x="580.1" y="604.2" width="18.53" height="23.9" fill="#2C0CFF"/>
<rect x="597.93" y="604.2" width="18.53" height="23.9" fill="#1E00FF"/>
<rect x="615.77" y="604.2" width="17.83" height="23.9" fill="#1800FF"/>
<rect x="526.6" y="627.4" width="18.53" height="23.9" fill="#8A5EFF"/>
<rect x="544.43" y="627.4" width="18.53" height="23.9" fill="#6A44FF"/>
<rect x="562.27" y="627.4" width="18.53" height="23.9" fill="#5530FF"/>
<rect x="580.1" y="627.4" width="18.53" height="23.9" fill="#7248FF"/>
<rect x="597.93" y="627.4" width="18.53" height="23.9" fill="#5634FF"/>
<rect x="615.77" y="627.4" width="17.83" height="23.9" fill="#4A24FF"/>
<rect x="526.6" y="650.6" width="18.53" height="23.2" fill="#FF0000"/>
<rect x="544.43" y="650.6" width="18.53" height="23.2" fill="#F4E0D8"/>
<rect x="562.27" y="650.6" width="18.53" height="23.2" fill="#B698F6"/>
<rect x="580.1" y="650.6" width="18.53" height="23.2" fill="#FF9E84"/>
<rect x="597.93" y="650.6" width="18.53" height="23.2" fill="#D6C8F2"/>
<rect x="615.77" y="650.6" width="17.83" height="23.2" fill="#A480F8"/>
<rect x="640.55" y="578.95" width="16.2" height="96.8" fill="url(#gC)"/>
<rect x="640.55" y="581.45" width="3.24" height="1.1" fill="#fff"/>
<rect x="653.51" y="581.45" width="3.24" height="1.1" fill="#fff"/>
<rect x="640.55" y="599.6" width="3.24" height="1.1" fill="#fff"/>
<rect x="653.51" y="599.6" width="3.24" height="1.1" fill="#fff"/>
<rect x="640.55" y="617.75" width="3.24" height="1.1" fill="#fff"/>
<rect x="653.51" y="617.75" width="3.24" height="1.1" fill="#fff"/>
<rect x="640.55" y="635.9" width="3.24" height="1.1" fill="#fff"/>
<rect x="653.51" y="635.9" width="3.24" height="1.1" fill="#fff"/>
<rect x="640.55" y="654.05" width="3.24" height="1.1" fill="#fff"/>
<rect x="653.51" y="654.05" width="3.24" height="1.1" fill="#fff"/>
<rect x="640.55" y="672.2" width="3.24" height="1.1" fill="#fff"/>
<rect x="653.51" y="672.2" width="3.24" height="1.1" fill="#fff"/>
<g opacity="0.999">
<text transform="translate(164.45,13) scale(0.993,1.04)" font-size="17.2" text-anchor="middle">E</text>
<text transform="translate(44.89,41) scale(1.049,1.074)" font-size="15.4" text-anchor="end">20</text>
<text transform="translate(44.89,64.2) scale(1.049,1.074)" font-size="15.4" text-anchor="end">40</text>
<text transform="translate(44.89,87.4) scale(1.049,1.074)" font-size="15.4" text-anchor="end">60</text>
<text transform="translate(44.89,110.6) scale(1.049,1.074)" font-size="15.4" text-anchor="end">80</text>
<text transform="translate(13.25,70) rotate(-90) scale(1.0,1.05)" font-size="17.0" text-anchor="middle">age (years)</text>
<text transform="translate(64,119.79) rotate(-90) scale(1.041,1.1)" font-size="15.4" text-anchor="end">N</text>
<text transform="translate(83.01,119.79) rotate(-90) scale(1.041,1.1)" font-size="15.4" text-anchor="end">CVD</text>
<text transform="translate(102.02,119.79) rotate(-90) scale(1.041,1.1)" font-size="15.4" text-anchor="end">AVD</text>
<text transform="translate(121.03,119.79) rotate(-90) scale(1.041,1.1)" font-size="15.4" text-anchor="end">P</text>
<text transform="translate(140.04,119.79) rotate(-90) scale(1.041,1.1)" font-size="15.4" text-anchor="end">CCS</text>
<text transform="translate(159.05,119.79) rotate(-90) scale(1.041,1.1)" font-size="15.4" text-anchor="end">ACS</text>
<text transform="translate(179.9,119.79) rotate(-90) scale(1.041,1.1)" font-size="15.4" text-anchor="end">N<tspan font-size="10.3" dy="2.72">UK</tspan></text>
<text transform="translate(198.91,119.79) rotate(-90) scale(1.041,1.1)" font-size="15.4" text-anchor="end">CVD<tspan font-size="10.3" dy="2.72">UK</tspan></text>
<text transform="translate(217.92,119.79) rotate(-90) scale(1.041,1.1)" font-size="15.4" text-anchor="end">AVD<tspan font-size="10.3" dy="2.72">UK</tspan></text>
<text transform="translate(236.93,119.79) rotate(-90) scale(1.041,1.1)" font-size="15.4" text-anchor="end">P<tspan font-size="10.3" dy="2.72">UK</tspan></text>
<text transform="translate(255.94,119.79) rotate(-90) scale(1.041,1.1)" font-size="15.4" text-anchor="end">CCS<tspan font-size="10.3" dy="2.72">UK</tspan></text>
<text transform="translate(274.95,119.79) rotate(-90) scale(1.041,1.1)" font-size="15.4" text-anchor="end">ACS<tspan font-size="10.3" dy="2.72">UK</tspan></text>
<text transform="translate(306.45,38.37) scale(1.04,1.081)" font-size="12.8">1</text>
<text transform="translate(306.45,74.97) scale(1.04,1.081)" font-size="12.8">0.95</text>
<text transform="translate(306.45,111.57) scale(1.04,1.081)" font-size="12.8">0.9</text>
<text transform="translate(524.8,13) scale(0.993,1.04)" font-size="17.2" text-anchor="middle">Ed</text>
<text transform="translate(412.39,41) scale(1.049,1.074)" font-size="15.4" text-anchor="end">20</text>
<text transform="translate(412.39,64.2) scale(1.049,1.074)" font-size="15.4" text-anchor="end">40</text>
<text transform="translate(412.39,87.4) scale(1.049,1.074)" font-size="15.4" text-anchor="end">60</text>
<text transform="translate(412.39,110.6) scale(1.049,1.074)" font-size="15.4" text-anchor="end">80</text>
<text transform="translate(430.92,119.79) rotate(-90) scale(1.041,1.1)" font-size="15.4" text-anchor="end">N</text>
<text transform="translate(448.75,119.79) rotate(-90) scale(1.041,1.1)" font-size="15.4" text-anchor="end">CVD</text>
<text transform="translate(466.58,119.79) rotate(-90) scale(1.041,1.1)" font-size="15.4" text-anchor="end">AVD</text>
<text transform="translate(484.42,119.79) rotate(-90) scale(1.041,1.1)" font-size="15.4" text-anchor="end">P</text>
<text transform="translate(502.25,119.79) rotate(-90) scale(1.041,1.1)" font-size="15.4" text-anchor="end">CCS</text>
<text transform="translate(520.08,119.79) rotate(-90) scale(1.041,1.1)" font-size="15.4" text-anchor="end">ACS</text>
<text transform="translate(539.57,119.79) rotate(-90) scale(1.041,1.1)" font-size="15.4" text-anchor="end">N<tspan font-size="10.3" dy="2.72">UK</tspan></text>
<text transform="translate(557.4,119.79) rotate(-90) scale(1.041,1.1)" font-size="15.4" text-anchor="end">CVD<tspan font-size="10.3" dy="2.72">UK</tspan></text>
<text transform="translate(575.23,119.79) rotate(-90) scale(1.041,1.1)" font-size="15.4" text-anchor="end">AVD<tspan font-size="10.3" dy="2.72">UK</tspan></text>
<text transform="translate(593.07,119.79) rotate(-90) scale(1.041,1.1)" font-size="15.4" text-anchor="end">P<tspan font-size="10.3" dy="2.72">UK</tspan></text>
<text transform="translate(610.9,119.79) rotate(-90) scale(1.041,1.1)" font-size="15.4" text-anchor="end">CCS<tspan font-size="10.3" dy="2.72">UK</tspan></text>
<text transform="translate(628.73,119.79) rotate(-90) scale(1.041,1.1)" font-size="15.4" text-anchor="end">ACS<tspan font-size="10.3" dy="2.72">UK</tspan></text>
<text transform="translate(659.9,38.37) scale(1.04,1.081)" font-size="12.8">0.1</text>
<text transform="translate(659.9,74.97) scale(1.04,1.081)" font-size="12.8">0.05</text>
<text transform="translate(659.9,111.57) scale(1.04,1.081)" font-size="12.8">0</text>
<text transform="translate(167.95,198.9) scale(0.993,1.04)" font-size="17.2" text-anchor="middle">Log M (cells/ml)</text>
<text transform="translate(48.39,226.9) scale(1.049,1.074)" font-size="15.4" text-anchor="end">20</text>
<text transform="translate(48.39,250.1) scale(1.049,1.074)" font-size="15.4" text-anchor="end">40</text>
<text transform="translate(48.39,273.3) scale(1.049,1.074)" font-size="15.4" text-anchor="end">60</text>
<text transform="translate(48.39,296.5) scale(1.049,1.074)" font-size="15.4" text-anchor="end">80</text>
<text transform="translate(16.75,255.9) rotate(-90) scale(1.0,1.05)" font-size="17.0" text-anchor="middle">age (years)</text>
<text transform="translate(67.5,305.69) rotate(-90) scale(1.041,1.1)" font-size="15.4" text-anchor="end">N</text>
<text transform="translate(86.51,305.69) rotate(-90) scale(1.041,1.1)" font-size="15.4" text-anchor="end">CVD</text>
<text transform="translate(105.52,305.69) rotate(-90) scale(1.041,1.1)" font-size="15.4" text-anchor="end">AVD</text>
<text transform="translate(124.53,305.69) rotate(-90) scale(1.041,1.1)" font-size="15.4" text-anchor="end">P</text>
<text transform="translate(143.54,305.69) rotate(-90) scale(1.041,1.1)" font-size="15.4" text-anchor="end">CCS</text>
<text transform="translate(162.55,305.69) rotate(-90) scale(1.041,1.1)" font-size="15.4" text-anchor="end">ACS</text>
<text transform="translate(183.4,305.69) rotate(-90) scale(1.041,1.1)" font-size="15.4" text-anchor="end">N<tspan font-size="10.3" dy="2.72">UK</tspan></text>
<text transform="translate(202.41,305.69) rotate(-90) scale(1.041,1.1)" font-size="15.4" text-anchor="end">CVD<tspan font-size="10.3" dy="2.72">UK</tspan></text>
<text transform="translate(221.42,305.69) rotate(-90) scale(1.041,1.1)" font-size="15.4" text-anchor="end">AVD<tspan font-size="10.3" dy="2.72">UK</tspan></text>
<text transform="translate(240.43,305.69) rotate(-90) scale(1.041,1.1)" font-size="15.4" text-anchor="end">P<tspan font-size="10.3" dy="2.72">UK</tspan></text>
<text transform="translate(259.44,305.69) rotate(-90) scale(1.041,1.1)" font-size="15.4" text-anchor="end">CCS<tspan font-size="10.3" dy="2.72">UK</tspan></text>
<text transform="translate(278.45,305.69) rotate(-90) scale(1.041,1.1)" font-size="15.4" text-anchor="end">ACS<tspan font-size="10.3" dy="2.72">UK</tspan></text>
<text transform="translate(309.95,215.5) scale(1.04,1.081)" font-size="12.8">5.6</text>
<text transform="translate(309.95,233.66) scale(1.04,1.081)" font-size="12.8">5.4</text>
<text transform="translate(309.95,251.82) scale(1.04,1.081)" font-size="12.8">5.2</text>
<text transform="translate(309.95,269.98) scale(1.04,1.081)" font-size="12.8">5</text>
<text transform="translate(309.95,288.14) scale(1.04,1.081)" font-size="12.8">4.8</text>
<text transform="translate(309.95,306.3) scale(1.04,1.081)" font-size="12.8">4.6</text>
<text transform="translate(528.7,198.9) scale(0.993,1.04)" font-size="17.2" text-anchor="middle">Log R (cells/ml)</text>
<text transform="translate(416.29,226.9) scale(1.049,1.074)" font-size="15.4" text-anchor="end">20</text>
<text transform="translate(416.29,250.1) scale(1.049,1.074)" font-size="15.4" text-anchor="end">40</text>
<text transform="translate(416.29,273.3) scale(1.049,1.074)" font-size="15.4" text-anchor="end">60</text>
<text transform="translate(416.29,296.5) scale(1.049,1.074)" font-size="15.4" text-anchor="end">80</text>
<text transform="translate(434.82,305.69) rotate(-90) scale(1.041,1.1)" font-size="15.4" text-anchor="end">N</text>
<text transform="translate(452.65,305.69) rotate(-90) scale(1.041,1.1)" font-size="15.4" text-anchor="end">CVD</text>
<text transform="translate(470.48,305.69) rotate(-90) scale(1.041,1.1)" font-size="15.4" text-anchor="end">AVD</text>
<text transform="translate(488.32,305.69) rotate(-90) scale(1.041,1.1)" font-size="15.4" text-anchor="end">P</text>
<text transform="translate(506.15,305.69) rotate(-90) scale(1.041,1.1)" font-size="15.4" text-anchor="end">CCS</text>
<text transform="translate(523.98,305.69) rotate(-90) scale(1.041,1.1)" font-size="15.4" text-anchor="end">ACS</text>
<text transform="translate(543.47,305.69) rotate(-90) scale(1.041,1.1)" font-size="15.4" text-anchor="end">N<tspan font-size="10.3" dy="2.72">UK</tspan></text>
<text transform="translate(561.3,305.69) rotate(-90) scale(1.041,1.1)" font-size="15.4" text-anchor="end">CVD<tspan font-size="10.3" dy="2.72">UK</tspan></text>
<text transform="translate(579.13,305.69) rotate(-90) scale(1.041,1.1)" font-size="15.4" text-anchor="end">AVD<tspan font-size="10.3" dy="2.72">UK</tspan></text>
<text transform="translate(596.97,305.69) rotate(-90) scale(1.041,1.1)" font-size="15.4" text-anchor="end">P<tspan font-size="10.3" dy="2.72">UK</tspan></text>
<text transform="translate(614.8,305.69) rotate(-90) scale(1.041,1.1)" font-size="15.4" text-anchor="end">CCS<tspan font-size="10.3" dy="2.72">UK</tspan></text>
<text transform="translate(632.63,305.69) rotate(-90) scale(1.041,1.1)" font-size="15.4" text-anchor="end">ACS<tspan font-size="10.3" dy="2.72">UK</tspan></text>
<text transform="translate(663.8,215.5) scale(1.04,1.081)" font-size="12.8">5.2</text>
<text transform="translate(663.8,233.68) scale(1.04,1.081)" font-size="12.8">5</text>
<text transform="translate(663.8,251.86) scale(1.04,1.081)" font-size="12.8">4.8</text>
<text transform="translate(663.8,270.04) scale(1.04,1.081)" font-size="12.8">4.6</text>
<text transform="translate(663.8,288.22) scale(1.04,1.081)" font-size="12.8">4.4</text>
<text transform="translate(663.8,306.4) scale(1.04,1.081)" font-size="12.8">4.2</text>
<text transform="translate(167.95,384.8) scale(0.993,1.04)" font-size="17.2" text-anchor="middle">Log Th (cells/ml)</text>
<text transform="translate(48.39,412.8) scale(1.049,1.074)" font-size="15.4" text-anchor="end">20</text>
<text transform="translate(48.39,436) scale(1.049,1.074)" font-size="15.4" text-anchor="end">40</text>
<text transform="translate(48.39,459.2) scale(1.049,1.074)" font-size="15.4" text-anchor="end">60</text>
<text transform="translate(48.39,482.4) scale(1.049,1.074)" font-size="15.4" text-anchor="end">80</text>
<text transform="translate(16.75,441.8) rotate(-90) scale(1.0,1.05)" font-size="17.0" text-anchor="middle">age (years)</text>
<text transform="translate(67.5,491.59) rotate(-90) scale(1.041,1.1)" font-size="15.4" text-anchor="end">N</text>
<text transform="translate(86.51,491.59) rotate(-90) scale(1.041,1.1)" font-size="15.4" text-anchor="end">CVD</text>
<text transform="translate(105.52,491.59) rotate(-90) scale(1.041,1.1)" font-size="15.4" text-anchor="end">AVD</text>
<text transform="translate(124.53,491.59) rotate(-90) scale(1.041,1.1)" font-size="15.4" text-anchor="end">P</text>
<text transform="translate(143.54,491.59) rotate(-90) scale(1.041,1.1)" font-size="15.4" text-anchor="end">CCS</text>
<text transform="translate(162.55,491.59) rotate(-90) scale(1.041,1.1)" font-size="15.4" text-anchor="end">ACS</text>
<text transform="translate(183.4,491.59) rotate(-90) scale(1.041,1.1)" font-size="15.4" text-anchor="end">N<tspan font-size="10.3" dy="2.72">UK</tspan></text>
<text transform="translate(202.41,491.59) rotate(-90) scale(1.041,1.1)" font-size="15.4" text-anchor="end">CVD<tspan font-size="10.3" dy="2.72">UK</tspan></text>
<text transform="translate(221.42,491.59) rotate(-90) scale(1.041,1.1)" font-size="15.4" text-anchor="end">AVD<tspan font-size="10.3" dy="2.72">UK</tspan></text>
<text transform="translate(240.43,491.59) rotate(-90) scale(1.041,1.1)" font-size="15.4" text-anchor="end">P<tspan font-size="10.3" dy="2.72">UK</tspan></text>
<text transform="translate(259.44,491.59) rotate(-90) scale(1.041,1.1)" font-size="15.4" text-anchor="end">CCS<tspan font-size="10.3" dy="2.72">UK</tspan></text>
<text transform="translate(278.45,491.59) rotate(-90) scale(1.041,1.1)" font-size="15.4" text-anchor="end">ACS<tspan font-size="10.3" dy="2.72">UK</tspan></text>
<text transform="translate(309.95,409.84) scale(1.04,1.081)" font-size="12.8">4.4</text>
<text transform="translate(309.95,428.22) scale(1.04,1.081)" font-size="12.8">4.2</text>
<text transform="translate(309.95,446.6) scale(1.04,1.081)" font-size="12.8">4</text>
<text transform="translate(309.95,464.98) scale(1.04,1.081)" font-size="12.8">3.8</text>
<text transform="translate(309.95,483.36) scale(1.04,1.081)" font-size="12.8">3.6</text>
<text transform="translate(528.7,384.8) scale(0.993,1.04)" font-size="17.2" text-anchor="middle">Log B (cells/ml)</text>
<text transform="translate(416.29,412.8) scale(1.049,1.074)" font-size="15.4" text-anchor="end">20</text>
<text transform="translate(416.29,436) scale(1.049,1.074)" font-size="15.4" text-anchor="end">40</text>
<text transform="translate(416.29,459.2) scale(1.049,1.074)" font-size="15.4" text-anchor="end">60</text>
<text transform="translate(416.29,482.4) scale(1.049,1.074)" font-size="15.4" text-anchor="end">80</text>
<text transform="translate(434.82,491.59) rotate(-90) scale(1.041,1.1)" font-size="15.4" text-anchor="end">N</text>
<text transform="translate(452.65,491.59) rotate(-90) scale(1.041,1.1)" font-size="15.4" text-anchor="end">CVD</text>
<text transform="translate(470.48,491.59) rotate(-90) scale(1.041,1.1)" font-size="15.4" text-anchor="end">AVD</text>
<text transform="translate(488.32,491.59) rotate(-90) scale(1.041,1.1)" font-size="15.4" text-anchor="end">P</text>
<text transform="translate(506.15,491.59) rotate(-90) scale(1.041,1.1)" font-size="15.4" text-anchor="end">CCS</text>
<text transform="translate(523.98,491.59) rotate(-90) scale(1.041,1.1)" font-size="15.4" text-anchor="end">ACS</text>
<text transform="translate(543.47,491.59) rotate(-90) scale(1.041,1.1)" font-size="15.4" text-anchor="end">N<tspan font-size="10.3" dy="2.72">UK</tspan></text>
<text transform="translate(561.3,491.59) rotate(-90) scale(1.041,1.1)" font-size="15.4" text-anchor="end">CVD<tspan font-size="10.3" dy="2.72">UK</tspan></text>
<text transform="translate(579.13,491.59) rotate(-90) scale(1.041,1.1)" font-size="15.4" text-anchor="end">AVD<tspan font-size="10.3" dy="2.72">UK</tspan></text>
<text transform="translate(596.97,491.59) rotate(-90) scale(1.041,1.1)" font-size="15.4" text-anchor="end">P<tspan font-size="10.3" dy="2.72">UK</tspan></text>
<text transform="translate(614.8,491.59) rotate(-90) scale(1.041,1.1)" font-size="15.4" text-anchor="end">CCS<tspan font-size="10.3" dy="2.72">UK</tspan></text>
<text transform="translate(632.63,491.59) rotate(-90) scale(1.041,1.1)" font-size="15.4" text-anchor="end">ACS<tspan font-size="10.3" dy="2.72">UK</tspan></text>
<text transform="translate(663.8,401.35) scale(1.04,1.081)" font-size="12.8">3.6</text>
<text transform="translate(663.8,419.48) scale(1.04,1.081)" font-size="12.8">3.4</text>
<text transform="translate(663.8,437.61) scale(1.04,1.081)" font-size="12.8">3.2</text>
<text transform="translate(663.8,455.74) scale(1.04,1.081)" font-size="12.8">3</text>
<text transform="translate(663.8,473.87) scale(1.04,1.081)" font-size="12.8">2.8</text>
<text transform="translate(663.8,492) scale(1.04,1.081)" font-size="12.8">2.6</text>
<text transform="translate(167.95,570.7) scale(0.993,1.04)" font-size="17.2" text-anchor="middle">G (pg/ml)</text>
<text transform="translate(48.39,598.7) scale(1.049,1.074)" font-size="15.4" text-anchor="end">20</text>
<text transform="translate(48.39,621.9) scale(1.049,1.074)" font-size="15.4" text-anchor="end">40</text>
<text transform="translate(48.39,645.1) scale(1.049,1.074)" font-size="15.4" text-anchor="end">60</text>
<text transform="translate(48.39,668.3) scale(1.049,1.074)" font-size="15.4" text-anchor="end">80</text>
<text transform="translate(16.75,627.7) rotate(-90) scale(1.0,1.05)" font-size="17.0" text-anchor="middle">age (years)</text>
<text transform="translate(67.5,677.49) rotate(-90) scale(1.041,1.1)" font-size="15.4" text-anchor="end">N</text>
<text transform="translate(86.51,677.49) rotate(-90) scale(1.041,1.1)" font-size="15.4" text-anchor="end">CVD</text>
<text transform="translate(105.52,677.49) rotate(-90) scale(1.041,1.1)" font-size="15.4" text-anchor="end">AVD</text>
<text transform="translate(124.53,677.49) rotate(-90) scale(1.041,1.1)" font-size="15.4" text-anchor="end">P</text>
<text transform="translate(143.54,677.49) rotate(-90) scale(1.041,1.1)" font-size="15.4" text-anchor="end">CCS</text>
<text transform="translate(162.55,677.49) rotate(-90) scale(1.041,1.1)" font-size="15.4" text-anchor="end">ACS</text>
<text transform="translate(183.4,677.49) rotate(-90) scale(1.041,1.1)" font-size="15.4" text-anchor="end">N<tspan font-size="10.3" dy="2.72">UK</tspan></text>
<text transform="translate(202.41,677.49) rotate(-90) scale(1.041,1.1)" font-size="15.4" text-anchor="end">CVD<tspan font-size="10.3" dy="2.72">UK</tspan></text>
<text transform="translate(221.42,677.49) rotate(-90) scale(1.041,1.1)" font-size="15.4" text-anchor="end">AVD<tspan font-size="10.3" dy="2.72">UK</tspan></text>
<text transform="translate(240.43,677.49) rotate(-90) scale(1.041,1.1)" font-size="15.4" text-anchor="end">P<tspan font-size="10.3" dy="2.72">UK</tspan></text>
<text transform="translate(259.44,677.49) rotate(-90) scale(1.041,1.1)" font-size="15.4" text-anchor="end">CCS<tspan font-size="10.3" dy="2.72">UK</tspan></text>
<text transform="translate(278.45,677.49) rotate(-90) scale(1.041,1.1)" font-size="15.4" text-anchor="end">ACS<tspan font-size="10.3" dy="2.72">UK</tspan></text>
<text transform="translate(309.95,587.1) scale(1.04,1.081)" font-size="12.8">1</text>
<text transform="translate(309.95,605.25) scale(1.04,1.081)" font-size="12.8">0.9</text>
<text transform="translate(309.95,623.4) scale(1.04,1.081)" font-size="12.8">0.8</text>
<text transform="translate(309.95,641.55) scale(1.04,1.081)" font-size="12.8">0.7</text>
<text transform="translate(309.95,659.7) scale(1.04,1.081)" font-size="12.8">0.6</text>
<text transform="translate(309.95,677.85) scale(1.04,1.081)" font-size="12.8">0.5</text>
<text transform="translate(524.8,570.7) scale(0.993,1.04)" font-size="17.2" text-anchor="middle">C (pg/ml)</text>
<text transform="translate(412.39,598.7) scale(1.049,1.074)" font-size="15.4" text-anchor="end">20</text>
<text transform="translate(412.39,621.9) scale(1.049,1.074)" font-size="15.4" text-anchor="end">40</text>
<text transform="translate(412.39,645.1) scale(1.049,1.074)" font-size="15.4" text-anchor="end">60</text>
<text transform="translate(412.39,668.3) scale(1.049,1.074)" font-size="15.4" text-anchor="end">80</text>
<text transform="translate(430.92,677.49) rotate(-90) scale(1.041,1.1)" font-size="15.4" text-anchor="end">N</text>
<text transform="translate(448.75,677.49) rotate(-90) scale(1.041,1.1)" font-size="15.4" text-anchor="end">CVD</text>
<text transform="translate(466.58,677.49) rotate(-90) scale(1.041,1.1)" font-size="15.4" text-anchor="end">AVD</text>
<text transform="translate(484.42,677.49) rotate(-90) scale(1.041,1.1)" font-size="15.4" text-anchor="end">P</text>
<text transform="translate(502.25,677.49) rotate(-90) scale(1.041,1.1)" font-size="15.4" text-anchor="end">CCS</text>
<text transform="translate(520.08,677.49) rotate(-90) scale(1.041,1.1)" font-size="15.4" text-anchor="end">ACS</text>
<text transform="translate(539.57,677.49) rotate(-90) scale(1.041,1.1)" font-size="15.4" text-anchor="end">N<tspan font-size="10.3" dy="2.72">UK</tspan></text>
<text transform="translate(557.4,677.49) rotate(-90) scale(1.041,1.1)" font-size="15.4" text-anchor="end">CVD<tspan font-size="10.3" dy="2.72">UK</tspan></text>
<text transform="translate(575.23,677.49) rotate(-90) scale(1.041,1.1)" font-size="15.4" text-anchor="end">AVD<tspan font-size="10.3" dy="2.72">UK</tspan></text>
<text transform="translate(593.07,677.49) rotate(-90) scale(1.041,1.1)" font-size="15.4" text-anchor="end">P<tspan font-size="10.3" dy="2.72">UK</tspan></text>
<text transform="translate(610.9,677.49) rotate(-90) scale(1.041,1.1)" font-size="15.4" text-anchor="end">CCS<tspan font-size="10.3" dy="2.72">UK</tspan></text>
<text transform="translate(628.73,677.49) rotate(-90) scale(1.041,1.1)" font-size="15.4" text-anchor="end">ACS<tspan font-size="10.3" dy="2.72">UK</tspan></text>
<text transform="translate(659.9,587.1) scale(1.04,1.081)" font-size="12.8">0.5</text>
<text transform="translate(659.9,605.25) scale(1.04,1.081)" font-size="12.8">0.45</text>
<text transform="translate(659.9,623.4) scale(1.04,1.081)" font-size="12.8">0.4</text>
<text transform="translate(659.9,641.55) scale(1.04,1.081)" font-size="12.8">0.35</text>
<text transform="translate(659.9,659.7) scale(1.04,1.081)" font-size="12.8">0.3</text>
<text transform="translate(659.9,677.85) scale(1.04,1.081)" font-size="12.8">0.25</text>
</g>
</svg>
</body></html>
